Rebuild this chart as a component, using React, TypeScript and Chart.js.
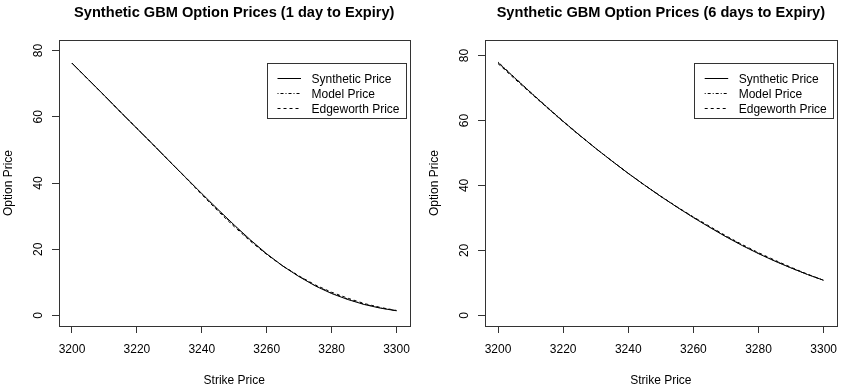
import React, { useEffect, useRef } from "react";
import { Chart, registerables } from "chart.js";

Chart.register(...registerables);

const strikes = [3200, 3205, 3210, 3215, 3220, 3225, 3230, 3235, 3240, 3245, 3250, 3255, 3260, 3265, 3270, 3275, 3280, 3285, 3290, 3295, 3300];

const synth1 = [76.2, 71.3, 66.4, 61.4, 56.5, 51.6, 46.6, 41.7, 36.8, 32.0, 27.3, 22.8, 18.6, 14.9, 11.7, 8.9, 6.6, 4.8, 3.3, 2.2, 1.4];
const model1 = [76.2, 71.3, 66.4, 61.4, 56.5, 51.6, 46.6, 41.7, 36.7, 31.8, 27.1, 22.6, 18.5, 14.9, 11.8, 9.0, 6.8, 4.9, 3.4, 2.3, 1.4];
const edge1 = [76.2, 71.3, 66.4, 61.4, 56.5, 51.6, 46.6, 41.6, 36.5, 31.5, 26.8, 22.4, 18.4, 14.9, 11.9, 9.2, 7.0, 5.2, 3.6, 2.4, 1.5];

const synth6 = [77.8, 73.2, 68.6, 64.1, 59.7, 55.5, 51.4, 47.5, 43.7, 40.1, 36.6, 33.3, 30.1, 27.1, 24.2, 21.5, 19.0, 16.7, 14.6, 12.6, 10.8];
const model6 = [78.0, 73.3, 68.7, 64.2, 59.8, 55.5, 51.4, 47.5, 43.7, 40.1, 36.6, 33.3, 30.2, 27.2, 24.3, 21.6, 19.1, 16.8, 14.6, 12.6, 10.8];
const edge6 = [77.5, 72.9, 68.4, 64.0, 59.6, 55.4, 51.4, 47.5, 43.7, 40.1, 36.7, 33.4, 30.3, 27.4, 24.5, 21.8, 19.3, 17.0, 14.8, 12.7, 10.8];

const xTicks = [3200, 3220, 3240, 3260, 3280, 3300];
const yTicks = [0, 20, 40, 60, 80];
const seriesLabels = ["Synthetic Price", "Model Price", "Edgeworth Price"];
const seriesDashes = [[], [1, 2, 3, 2], [3, 3]];

const FONT = '"Liberation Sans", Arial, Helvetica, sans-serif';

type PanelProps = {
  title: string;
  series: number[][];
  yMin: number;
  yMax: number;
  left: number;
  right: number;
};

function Panel({ title, series, yMin, yMax, left, right }: PanelProps) {
  const ref = useRef<HTMLCanvasElement | null>(null);
  useEffect(() => {
    if (!ref.current) return;
    const W = 425;
    const H = 391;
    const top = 40;
    const bottom = 326;
    const rPlugin = {
      id: "rstyle",
      afterDraw(chart: any) {
        const ctx = chart.ctx as CanvasRenderingContext2D;
        const a = chart.chartArea;
        const xs = chart.scales.x;
        const ys = chart.scales.y;
        ctx.save();
        // box
        ctx.strokeStyle = "#333";
        ctx.lineWidth = 1;
        ctx.setLineDash([]);
        ctx.strokeRect(Math.round(a.left) + 0.5, Math.round(a.top) + 0.5, Math.round(a.right - a.left), Math.round(a.bottom - a.top));
        ctx.fillStyle = "#000";
        // title
        ctx.font = `bold 14.6px ${FONT}`;
        ctx.textAlign = "center";
        ctx.textBaseline = "alphabetic";
        ctx.fillText(title, (a.left + a.right) / 2, 16.5);
        // x tick labels
        ctx.font = `12px ${FONT}`;
        xTicks.forEach((v) => {
          ctx.fillText(String(v), xs.getPixelForValue(v), 353);
        });
        ctx.fillText("Strike Price", (a.left + a.right) / 2, 384);
        // y tick labels
        yTicks.forEach((v) => {
          ctx.save();
          ctx.translate(a.left - 17.5, ys.getPixelForValue(v));
          ctx.rotate(-Math.PI / 2);
          ctx.fillText(String(v), 0, 0);
          ctx.restore();
        });
        ctx.save();
        ctx.translate(a.left - 47.5, (a.top + a.bottom) / 2);
        ctx.rotate(-Math.PI / 2);
        ctx.fillText("Option Price", 0, 0);
        ctx.restore();
        // legend
        const lr = a.right - 4;
        const lw = 138.5;
        const ll = lr - lw;
        const lt = 63;
        const lb = 118;
        ctx.fillStyle = "#fff";
        ctx.fillRect(ll, lt, lw, lb - lt);
        ctx.strokeStyle = "#333";
        ctx.strokeRect(Math.round(ll) + 0.5, lt + 0.5, Math.round(lw), lb - lt);
        ctx.fillStyle = "#000";
        ctx.textAlign = "left";
        const rows = [78, 93, 108];
        seriesLabels.forEach((lab, i) => {
          ctx.strokeStyle = "#000";
          ctx.setLineDash(seriesDashes[i]);
          ctx.beginPath();
          ctx.moveTo(ll + 10.5, rows[i] + 0.5);
          ctx.lineTo(ll + 34, rows[i] + 0.5);
          ctx.stroke();
          ctx.setLineDash([]);
          ctx.fillText(lab, ll + 44.5, rows[i] + 4.5);
        });
        ctx.restore();
      },
    };
    const mk = (vals: number[]) => strikes.map((k, i) => ({ x: k, y: vals[i] }));
    const chart = new Chart(ref.current, {
      type: "line",
      data: {
        datasets: series.map((s, i) => ({
          label: seriesLabels[i],
          data: mk(s),
          borderColor: "#000",
          borderWidth: 1,
          borderDash: seriesDashes[i],
          pointRadius: 0,
          tension: 0,
          fill: false,
        })),
      },
      options: {
        responsive: false,
        animation: false,
        devicePixelRatio: 1,
        layout: { padding: { left: 0, top: top, right: W - right, bottom: 0 } },
        plugins: {
          legend: { display: false },
          title: { display: false },
          tooltip: { enabled: false },
        },
        scales: {
          x: {
            type: "linear",
            min: 3196,
            max: 3304,
            afterBuildTicks: (s: any) => {
              s.ticks = xTicks.map((v) => ({ value: v }));
            },
            afterFit: (s: any) => {
              s.height = H - bottom;
            },
            ticks: { display: false },
            grid: { drawOnChartArea: false, drawTicks: true, tickLength: 7, color: "#333", lineWidth: 1 },
            border: { display: false },
          },
          y: {
            type: "linear",
            min: yMin,
            max: yMax,
            afterBuildTicks: (s: any) => {
              s.ticks = yTicks.map((v) => ({ value: v }));
            },
            afterFit: (s: any) => {
              s.width = left;
            },
            ticks: { display: false },
            grid: { drawOnChartArea: false, drawTicks: true, tickLength: 7, color: "#333", lineWidth: 1 },
            border: { display: false },
          },
        },
      } as any,
      plugins: [rPlugin],
    });
    return () => chart.destroy();
  }, [title, series, yMin, yMax, left, right]);
  return <canvas ref={ref} width={425} height={391} style={{ display: "block", width: 425, height: 391 }} />;
}

export default function App() {
  return (
    <div style={{ position: "absolute", left: 0, top: 0, width: 850, height: 391, background: "#fff", display: "flex" }}>
      <Panel title="Synthetic GBM Option Prices (1 day to Expiry)" series={[synth1, model1, edge1]} yMin={-3.2} yMax={83.2} left={59} right={409.5} />
      <Panel title="Synthetic GBM Option Prices (6 days to Expiry)" series={[synth6, model6, edge6]} yMin={-3.26} yMax={84.76} left={60} right={411.7} />
    </div>
  );
}
